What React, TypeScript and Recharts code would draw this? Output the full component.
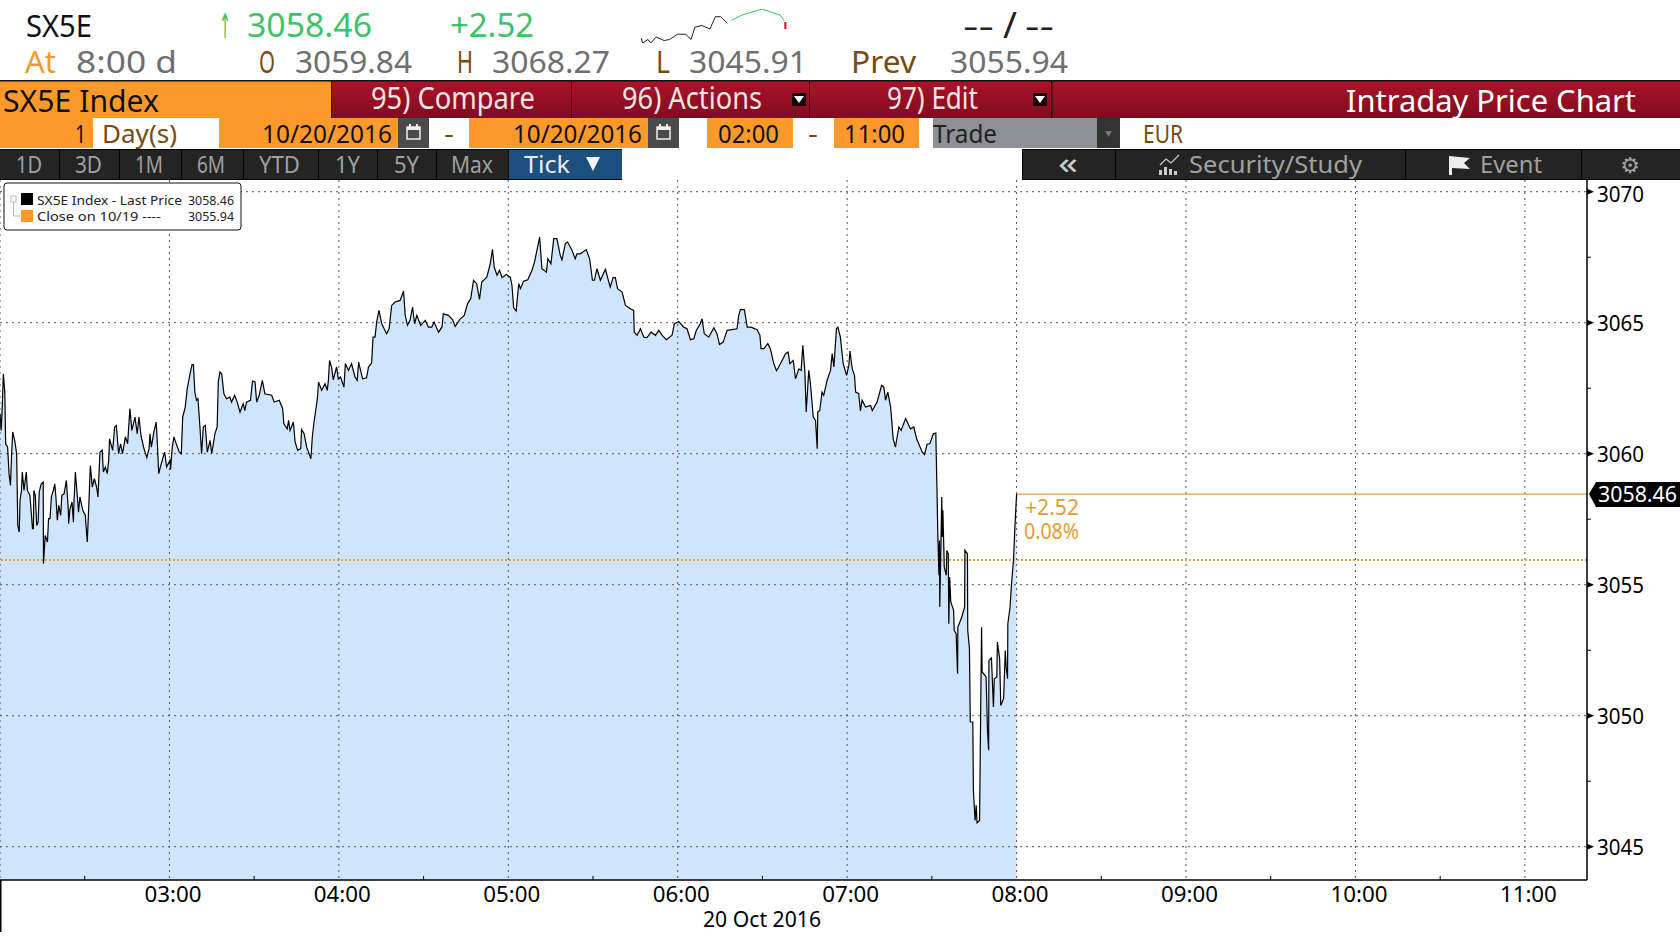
import {
  Area,
  CartesianGrid,
  ComposedChart,
  Line,
  LineChart,
  ReferenceLine,
  XAxis,
  YAxis,
} from "recharts";

// minutes after 02:00
const tickMinutes = [
  0, 0.4, 0.7, 1.2, 1.7, 2.0, 2.7, 3.2, 3.7, 4.1,
  4.5, 5.2, 5.9, 6.3, 6.8, 7.1, 7.6, 7.9, 8.5, 9.3,
  9.7, 10.6, 11.5, 11.8, 12.0, 12.5, 13.0, 13.5, 13.9, 14.6,
  15.3, 15.4, 16.0, 16.8, 17.2, 17.7, 18.2, 18.9, 19.4, 19.8,
  20.3, 20.8, 21.5, 21.9, 22.7, 23.5, 24.2, 24.3, 24.8, 25.5,
  26.0, 26.2, 26.7, 27.4, 27.8, 28.3, 29.3, 30.2, 30.9, 31.4,
  32.0, 32.7, 33.4, 34.2, 34.7, 35.4, 36.2, 36.6, 37.3, 38.0,
  38.5, 38.8, 39.9, 40.6, 41.2, 42.0, 42.7, 43.4, 44.4, 45.2,
  46.0, 46.7, 47.8, 48.6, 49.2, 50.0, 51.0, 52.0, 52.8, 53.1,
  53.6, 54.5, 55.3, 55.8, 56.2, 57.1, 58.3, 59.0, 60.2, 60.4,
  61.0, 61.6, 62.6, 63.5, 64.2, 64.7, 65.6, 66.3, 67.3, 68.0,
  68.5, 69.0, 69.6, 70.1, 70.8, 71.4, 72.0, 72.7, 73.4, 74.4,
  75.0, 76.1, 76.9, 77.3, 77.9, 78.5, 79.3, 80.2, 81.4, 82.0,
  83.1, 84.0, 85.0, 86.1, 86.7, 87.3, 88.7, 89.4, 90.3, 90.9,
  91.8, 92.9, 93.8, 96.2, 97.1, 98.9, 100.1, 100.5, 101.7, 102.2,
  102.7, 103.9, 104.5, 105.4, 106.5, 106.8, 107.7, 108.6, 110.1, 110.6,
  111.2, 111.8, 112.4, 112.8, 113.9, 115.1, 115.9, 116.3, 116.7, 117.4,
  118.0, 119.2, 119.8, 120.6, 121.8, 122.3, 123.4, 124.5, 125.7, 126.5,
  127.0, 128.4, 129.8, 130.5, 131.6, 132.1, 132.8, 133.4, 134.2, 135.2,
  136.3, 136.9, 137.8, 138.7, 139.9, 141.7, 142.9, 143.5, 144.3, 145.2,
  146.1, 146.8, 147.6, 149.0, 150.6, 151.7, 152.9, 153.7, 155.3, 156.5,
  157.0, 158.8, 160.3, 161.2, 163.0, 164.4, 165.6, 166.7, 167.7, 168.8,
  169.8, 170.6, 172.4, 173.6, 174.4, 175.0, 176.0, 176.9, 177.8, 179.3,
  180.7, 181.3, 181.9, 182.8, 183.7, 184.3, 185.4, 186.9, 188.4, 189.3,
  191.1, 191.9, 193.5, 194.0, 195.1, 196.1, 197.2, 198.4, 199.0, 200.2,
  201.0, 202.6, 203.7, 204.3, 205.5, 207.6, 208.8, 209.8, 210.5, 211.4,
  212.6, 214.4, 215.6, 216.1, 217.1, 217.9, 218.7, 220.3, 221.5, 223.2,
  224.4, 224.6, 225.6, 226.8, 228.0, 229.1, 230.6, 232.1, 233.3, 234.5,
  236.0, 238.0, 238.8, 240.4, 242.1, 243.3, 244.5, 245.7, 246.6, 248.0,
  248.6, 249.4, 251.0, 252.8, 253.9, 254.8, 256.1, 257.5, 261.0, 261.6,
  262.2, 263.6, 264.6, 266.0, 268.1, 269.1, 269.5, 270.5, 271.9, 272.8,
  274.0, 275.0, 276.4, 278.2, 279.1, 279.7, 280.9, 281.7, 282.9, 283.7,
  284.3, 285.0, 285.5, 286.4, 287.0, 288.0, 288.8, 289.4, 289.6, 290.3,
  291.1, 291.7, 292.9, 294.1, 294.7, 295.3, 296.2, 296.7, 297.6, 298.6,
  299.8, 300.6, 301.0, 301.8, 302.6, 303.0, 304.1, 304.7, 305.3, 306.5,
  308.3, 308.9, 310.6, 312.2, 313.0, 313.6, 314.4, 315.4, 316.3, 317.1,
  318.3, 319.1, 320.7, 322.4, 323.6, 324.6, 326.6, 327.4, 328.3, 329.3,
  330.5, 331.4, 331.8, 332.1, 332.5, 332.7, 332.8, 333.5, 333.7, 333.9,
  334.4, 335.1, 335.3, 335.8, 336.0, 336.3, 336.7, 337.7, 337.9, 338.6,
  339.1, 339.2, 340.6, 341.6, 341.7, 342.6, 342.7, 343.3, 343.6, 344.5,
  344.7, 345.3, 345.7, 346.0, 346.9, 347.1, 347.3, 347.6, 347.8, 349.2,
  349.7, 350.1, 350.2, 351.1, 351.8, 352.1, 353.0, 353.2, 354.0, 354.4,
  355.4, 356.0, 356.3, 356.8, 356.9, 357.7, 358.2, 358.9, 359.4, 360.0,
];

const tickPrices = [
  3061.53, 3060.89, 3061.53, 3063.05, 3062.35, 3060.38, 3060.25, 3059.24, 3058.79, 3059.94,
  3060.83, 3060.51, 3060.0, 3057.26, 3057.01, 3058.22, 3058.6, 3059.3, 3058.6, 3059.3,
  3058.6, 3058.41, 3057.14, 3057.14, 3058.6, 3058.41, 3057.26, 3057.39, 3058.54, 3058.85,
  3058.92, 3055.8, 3056.88, 3056.63, 3057.52, 3057.52, 3058.35, 3058.6, 3058.85, 3058.35,
  3057.46, 3058.03, 3057.65, 3058.41, 3058.47, 3058.98, 3057.84, 3057.33, 3057.9, 3058.16,
  3057.39, 3058.16, 3059.3, 3058.35, 3057.77, 3058.35, 3057.84, 3057.65, 3056.63, 3057.9,
  3059.55, 3058.73, 3059.05, 3058.73, 3058.35, 3060.06, 3060.13, 3059.3, 3059.49, 3059.24,
  3059.75, 3060.57, 3060.13, 3061.02, 3061.08, 3060.0, 3060.38, 3060.0, 3060.64, 3060.38,
  3061.72, 3060.89, 3061.4, 3060.76, 3061.4, 3060.64, 3060.19, 3059.85, 3060.19, 3060.76,
  3060.25, 3060.83, 3061.21, 3060.25, 3059.24, 3059.62, 3060.06, 3059.49, 3059.75, 3059.39,
  3060.25, 3060.64, 3060.32, 3060.06, 3060.0, 3061.4, 3061.78, 3062.48, 3063.05, 3063.4,
  3063.4, 3062.35, 3062.04, 3062.1, 3061.02, 3060.0, 3061.02, 3061.08, 3060.06, 3060.51,
  3060.0, 3060.76, 3061.02, 3062.74, 3063.12, 3063.05, 3062.29, 3062.1, 3062.16, 3061.97,
  3062.23, 3061.97, 3061.59, 3061.91, 3061.65, 3061.97, 3062.04, 3062.77, 3062.74, 3061.97,
  3062.23, 3062.8, 3062.29, 3062.23, 3061.97, 3062.04, 3061.72, 3061.15, 3060.95, 3061.27,
  3060.89, 3061.21, 3060.45, 3060.13, 3060.19, 3060.92, 3060.76, 3060.25, 3059.81, 3060.64,
  3061.21, 3061.65, 3062.1, 3062.74, 3062.42, 3062.67, 3062.42, 3062.8, 3063.56, 3063.31,
  3062.82, 3063.31, 3062.86, 3062.93, 3062.54, 3063.44, 3063.18, 3063.44, 3062.93, 3062.8,
  3063.5, 3062.86, 3062.9, 3063.31, 3063.46, 3064.45, 3064.45, 3065.03, 3065.47, 3064.96,
  3064.71, 3064.58, 3064.77, 3065.66, 3065.79, 3065.85, 3066.21, 3065.28, 3064.9, 3065.09,
  3065.6, 3064.96, 3065.28, 3064.9, 3065.09, 3064.83, 3064.83, 3065.03, 3064.64, 3064.83,
  3065.34, 3065.28, 3065.11, 3064.86, 3065.15, 3065.28, 3065.73, 3065.92, 3066.62, 3066.49,
  3065.89, 3066.55, 3066.74, 3067.25, 3067.8, 3067.13, 3066.81, 3067.0, 3066.72, 3066.84,
  3066.74, 3066.43, 3065.57, 3065.45, 3066.49, 3066.3, 3066.58, 3066.64, 3067.0, 3067.32,
  3068.27, 3067.06, 3066.93, 3067.44, 3067.25, 3068.21, 3068.21, 3067.57, 3067.4, 3068.02,
  3068.08, 3067.76, 3067.44, 3067.63, 3067.63, 3067.79, 3067.44, 3066.62, 3066.62, 3067.06,
  3066.62, 3067.04, 3066.55, 3066.36, 3066.72, 3066.72, 3066.3, 3066.17, 3065.66, 3065.53,
  3065.47, 3064.64, 3064.52, 3064.77, 3064.45, 3064.43, 3064.64, 3064.52, 3064.71, 3064.52,
  3064.35, 3064.52, 3064.96, 3065.05, 3064.83, 3064.77, 3064.35, 3064.39, 3064.71, 3064.96,
  3065.15, 3064.58, 3064.45, 3064.81, 3064.58, 3064.17, 3064.26, 3064.71, 3064.77, 3065.28,
  3065.5, 3065.5, 3064.83, 3064.83, 3064.73, 3064.52, 3064.01, 3064.01, 3064.2, 3064.01,
  3063.44, 3063.16, 3063.44, 3063.82, 3063.88, 3063.44, 3063.56, 3062.86, 3063.24, 3063.18,
  3064.14, 3063.18, 3061.59, 3063.18, 3062.67, 3061.4, 3061.27, 3060.19, 3061.59, 3061.65,
  3062.35, 3062.23, 3062.8, 3063.18, 3063.82, 3063.31, 3064.77, 3064.83, 3064.45, 3063.44,
  3062.99, 3063.37, 3063.92, 3063.24, 3062.99, 3062.35, 3062.29, 3061.63, 3062.04, 3061.78,
  3061.84, 3061.65, 3061.97, 3062.61, 3062.54, 3062.04, 3062.35, 3061.78, 3060.57, 3060.25,
  3061.02, 3060.89, 3061.34, 3060.95, 3061.02, 3060.57, 3060.06, 3059.97, 3060.36, 3060.38,
  3060.76, 3060.79, 3058.66, 3056.95, 3055.36, 3056.69, 3054.15, 3058.35, 3056.82, 3057.84,
  3055.67, 3055.36, 3056.31, 3056.18, 3053.51, 3055.29, 3054.34, 3054.02, 3053.26, 3053.13,
  3051.6, 3053.38, 3053.77, 3054.15, 3056.31, 3056.18, 3053.26, 3052.56, 3049.76, 3049.76,
  3047.15, 3046.0, 3046.58, 3045.91, 3046.0, 3048.23, 3050.33, 3053.38, 3051.67, 3051.48,
  3049.44, 3048.68, 3052.11, 3052.21, 3050.33, 3051.41, 3051.48, 3052.81, 3052.18, 3050.39,
  3050.65, 3052.49, 3051.86, 3051.41, 3053.51, 3054.15, 3055.04, 3055.93, 3057.2, 3058.46,
];

const lastPrice = 3058.46;
const prevClose = 3055.94;
const priceTicks = [3045, 3047.5, 3050, 3052.5, 3055, 3057.5, 3058.46, 3060, 3062.5, 3065, 3067.5, 3070];
const gridPrices = [3045, 3050, 3055, 3060, 3065, 3070];
const gridMinutes = [0, 60, 120, 180, 240, 300, 360, 420, 480, 540];
const timeTicks = [30, 60, 90, 120, 150, 180, 210, 240, 270, 300, 330, 360, 390, 420, 450, 480, 510, 540];
const hourLabels = ["03:00", "04:00", "05:00", "06:00", "07:00", "08:00", "09:00", "10:00", "11:00"];

// mini chart in the header, arbitrary level units
const sparkBlackX = [0, 3, 13, 18, 28, 43, 53, 68, 83, 93, 100, 113, 128, 138, 148, 160];
const sparkBlackY = [20, 5, 15, 5, 22, 12, 15, 30, 30, 15, 50, 55, 45, 80, 80, 62];
const sparkGreenX = [168, 188, 203, 225, 243, 258, 266];
const sparkGreenY = [70, 85, 92, 102, 92, 85, 68];
const sparkRedX = [268, 268];
const sparkRedY = [65, 45];

const priceRows = tickMinutes.map((t, i) => ({ t, price: tickPrices[i] }));
const toRows = (xs: number[], ys: number[]) => xs.map((x, i) => ({ x, y: ys[i] }));

const FONT = "'Noto Sans', sans-serif";
const ORANGE = "#fb9a2a";
const BROWN = "#7a4a10";
const GRAY = "#6f6f6f";
const GREEN = "#3cc464";
const BAR_TEXT = "#f4e3e4";
const BTN_TEXT = "#a0a0a0";
const X_DOMAIN = [0, 562];
const Y_DOMAIN = [3043.73, 3070.447];

interface LabelProps {
  x: number;
  end: number;
  y: number;
  size: number;
  fill: string;
  family?: string;
  children: string;
}

// text squeezed into the exact width it has in the terminal font
function Label({ x, end, y, size, fill, family = FONT, children }: LabelProps) {
  return (
    <text
      x={x}
      y={y}
      fontSize={size}
      fill={fill}
      fontFamily={family}
      textLength={end - x}
      lengthAdjust="spacingAndGlyphs"
    >
      {children}
    </text>
  );
}

function PriceTick({ x, y, payload }: any) {
  const v = payload.value as number;
  if (v === lastPrice) {
    return (
      <g>
        <polygon
          points={`${x + 2},${y} ${x + 9},${y - 12} ${x + 93},${y - 12} ${x + 93},${y + 13} ${x + 9},${y + 13}`}
          fill="#000"
        />
        <Label x={x + 11} end={x + 90} y={y + 8} size={21} fill="#fff">
          {v.toFixed(2)}
        </Label>
      </g>
    );
  }
  if (v % 5 !== 0) {
    return <line x1={x} x2={x + 4} y1={y} y2={y} stroke="#000" />;
  }
  return (
    <g>
      <polygon points={`${x},${y - 3} ${x + 7},${y} ${x},${y + 3}`} fill="#000" />
      <Label x={x + 10} end={x + 57} y={v === 3070 ? y + 10 : y + 8} size={21} fill="#000">
        {String(v)}
      </Label>
    </g>
  );
}

function TimeTick({ x, y, payload }: any) {
  const v = payload.value as number;
  if (v % 60 !== 0) {
    return <line x1={x} x2={x} y1={y} y2={y - 4} stroke="#000" />;
  }
  return (
    <Label x={x - 25} end={x + 32} y={y + 22} size={21} fill="#000">
      {hourLabels[v / 60 - 1]}
    </Label>
  );
}

function Sparkline() {
  return (
    <LineChart
      width={146}
      height={34}
      margin={{ top: 0, right: 0, bottom: 0, left: 0 }}
      style={{ position: "absolute", left: 641, top: 9 }}
    >
      <XAxis dataKey="x" type="number" domain={[0, 271]} hide />
      <YAxis dataKey="y" type="number" domain={[5, 102]} hide />
      <Line data={toRows(sparkBlackX, sparkBlackY)} dataKey="y" stroke="#222" strokeWidth={1} dot={false} isAnimationActive={false} />
      <Line data={toRows(sparkGreenX, sparkGreenY)} dataKey="y" stroke="#35c65a" strokeWidth={1} dot={false} isAnimationActive={false} />
      <Line data={toRows(sparkRedX, sparkRedY)} dataKey="y" stroke="#c8102e" strokeWidth={2} dot={false} isAnimationActive={false} />
    </LineChart>
  );
}

// the fill sits in its own chart so the grid and the dotted close line can lie over it
function PriceFill() {
  return (
    <ComposedChart
      width={1587}
      height={700}
      data={priceRows}
      margin={{ top: 0, right: 0, bottom: 0, left: 0 }}
      style={{ position: "absolute", left: 0, top: 180 }}
    >
      <XAxis dataKey="t" type="number" domain={X_DOMAIN} hide />
      <YAxis type="number" domain={Y_DOMAIN} hide />
      <Area
        dataKey="price"
        type="linear"
        stroke="none"
        fill="#cfe5fd"
        fillOpacity={1}
        dot={false}
        activeDot={false}
        isAnimationActive={false}
      />
    </ComposedChart>
  );
}

function PriceChart() {
  return (
    <ComposedChart
      width={1680}
      height={760}
      data={priceRows}
      margin={{ top: 0, right: 0, bottom: 0, left: 0 }}
      style={{ position: "absolute", left: 0, top: 180 }}
    >
      <XAxis
        dataKey="t"
        type="number"
        domain={X_DOMAIN}
        ticks={timeTicks}
        interval={0}
        height={60}
        axisLine={{ stroke: "#000", strokeWidth: 1.5 }}
        tickLine={false}
        tickSize={0}
        tickMargin={0}
        tick={<TimeTick />}
      />
      <YAxis
        orientation="right"
        type="number"
        domain={Y_DOMAIN}
        ticks={priceTicks}
        interval={0}
        width={93}
        axisLine={{ stroke: "#000", strokeWidth: 1.5 }}
        tickLine={false}
        tickSize={0}
        tickMargin={0}
        tick={<PriceTick />}
      />
      <CartesianGrid
        stroke="#555"
        strokeDasharray="2 4"
        horizontalValues={gridPrices}
        verticalValues={gridMinutes}
      />
      <ReferenceLine y={prevClose} stroke="#dba445" strokeWidth={2} strokeDasharray="2 2" />
      <ReferenceLine
        segment={[{ x: 360, y: lastPrice }, { x: 562, y: lastPrice }]}
        stroke="#dba445"
        strokeWidth={1.2}
      />
      <Line
        dataKey="price"
        type="linear"
        stroke="#000"
        strokeWidth={1.2}
        dot={false}
        activeDot={false}
        isAnimationActive={false}
      />
    </ComposedChart>
  );
}

function CalendarIcon({ x }: { x: number }) {
  return (
    <g>
      <rect x={x} y={127} width={13} height={12} fill="none" stroke="#eee" strokeWidth={1.5} />
      <rect x={x} y={127} width={13} height={3} fill="#eee" />
      <rect x={x + 2} y={124} width={2} height={3} fill="#eee" />
      <rect x={x + 9} y={124} width={2} height={3} fill="#eee" />
    </g>
  );
}

function Header() {
  return (
    <svg
      width={1680}
      height={940}
      style={{ position: "absolute", left: 0, top: 0, pointerEvents: "none" }}
    >
      <defs>
        <linearGradient id="redBar" x1="0" y1="0" x2="0" y2="1">
          <stop offset="0" stopColor="#ad1228" />
          <stop offset="1" stopColor="#7e0d20" />
        </linearGradient>
      </defs>

      {/* quote lines */}
      <Label x={26} end={92} y={37} size={31} fill="#111">SX5E</Label>
      <Label x={219} end={231} y={38} size={34} fill={GREEN} family="'DejaVu Sans'">↑</Label>
      <Label x={247} end={372} y={37} size={32} fill={GREEN}>3058.46</Label>
      <Label x={450} end={534} y={37} size={32} fill={GREEN}>+2.52</Label>
      <Label x={963} end={994} y={37} size={31} fill="#222">--</Label>
      <Label x={1003} end={1017} y={38} size={36} fill="#222">/</Label>
      <Label x={1025} end={1054} y={37} size={31} fill="#222">--</Label>
      <Label x={25} end={56} y={73} size={30} fill="#ef9a2e">At</Label>
      <Label x={76} end={177} y={73} size={30} fill={GRAY}>8:00 d</Label>
      <Label x={259} end={275} y={73} size={30} fill={BROWN}>O</Label>
      <Label x={295} end={412} y={73} size={30} fill={GRAY}>3059.84</Label>
      <Label x={457} end={473} y={73} size={30} fill={BROWN}>H</Label>
      <Label x={492} end={610} y={73} size={30} fill={GRAY}>3068.27</Label>
      <Label x={656} end={670} y={73} size={30} fill={BROWN}>L</Label>
      <Label x={689} end={807} y={73} size={30} fill={GRAY}>3045.91</Label>
      <Label x={851} end={916} y={73} size={30} fill={BROWN}>Prev</Label>
      <Label x={950} end={1068} y={73} size={30} fill={GRAY}>3055.94</Label>

      {/* title bar */}
      <rect x={0} y={81} width={1680} height={37} fill="url(#redBar)" />
      <rect x={0} y={81} width={331} height={37} fill={ORANGE} />
      <rect x={0} y={80} width={1680} height={1.5} fill="#111" />
      <rect x={331} y={81} width={1} height={37} fill="#3a0610" />
      <rect x={571} y={81} width={1} height={37} fill="#3a0610" />
      <rect x={809} y={81} width={1} height={37} fill="#3a0610" />
      <rect x={1051} y={81} width={1.5} height={37} fill="#1a0206" />
      <Label x={3} end={159} y={112} size={30} fill="#111">SX5E Index</Label>
      <Label x={371} end={535} y={109} size={30} fill={BAR_TEXT}>95) Compare</Label>
      <Label x={622} end={762} y={109} size={30} fill={BAR_TEXT}>96) Actions</Label>
      <Label x={887} end={978} y={109} size={30} fill={BAR_TEXT}>97) Edit</Label>
      <Label x={1346} end={1636} y={112} size={31} fill="#fff">Intraday Price Chart</Label>
      <rect x={792} y={93} width={14} height={13} fill="#180306" />
      <polygon points="794,96 804,96 799,103" fill="#fff" />
      <rect x={1033} y={93} width={14} height={13} fill="#180306" />
      <polygon points="1035,96 1045,96 1040,103" fill="#fff" />

      {/* date range row */}
      <rect x={0} y={118} width={93} height={30} fill={ORANGE} />
      <rect x={219} y={118} width={179} height={30} fill={ORANGE} />
      <rect x={469} y={118} width={179} height={30} fill={ORANGE} />
      <rect x={707} y={118} width={86} height={30} fill={ORANGE} />
      <rect x={834} y={118} width={85} height={30} fill={ORANGE} />
      <rect x={398} y={118} width={31} height={30} fill="#4a4a4a" />
      <rect x={648} y={118} width={31} height={30} fill="#4a4a4a" />
      <CalendarIcon x={407} />
      <CalendarIcon x={657} />
      <rect x={933} y={118} width={164} height={30} fill="#8e8f97" />
      <rect x={1097} y={118} width={23} height={30} fill="#333" />
      <polygon points="1105,131 1112,131 1108.5,137" fill="#777" />
      <Label x={75} end={86} y={143} size={25} fill="#111">1</Label>
      <Label x={102} end={177} y={143} size={25} fill={BROWN}>Day(s)</Label>
      <Label x={262} end={392} y={143} size={25} fill="#111">10/20/2016</Label>
      <Label x={444} end={454} y={143} size={25} fill={BROWN}>-</Label>
      <Label x={513} end={642} y={143} size={25} fill="#111">10/20/2016</Label>
      <Label x={718} end={779} y={143} size={25} fill="#111">02:00</Label>
      <Label x={808} end={818} y={143} size={25} fill={BROWN}>-</Label>
      <Label x={844} end={905} y={143} size={25} fill="#111">11:00</Label>
      <Label x={933} end={997} y={143} size={25} fill="#222">Trade</Label>
      <Label x={1143} end={1183} y={143} size={25} fill={BROWN}>EUR</Label>

      {/* range buttons */}
      <rect x={0} y={149} width={622} height={31} fill="#000" />
      {[
        [0, 59], [60, 119], [120, 181], [182, 243], [244, 318], [319, 377], [378, 436], [437, 508],
      ].map(([a, b]) => (
        <rect key={a} x={a} y={150} width={b - a} height={29} fill="#242424" />
      ))}
      <rect x={509} y={150} width={113} height={29} fill="#1d507e" />
      <Label x={16} end={42} y={173} size={23} fill={BTN_TEXT}>1D</Label>
      <Label x={75} end={102} y={173} size={23} fill={BTN_TEXT}>3D</Label>
      <Label x={135} end={163} y={173} size={23} fill={BTN_TEXT}>1M</Label>
      <Label x={197} end={225} y={173} size={23} fill={BTN_TEXT}>6M</Label>
      <Label x={259} end={300} y={173} size={23} fill={BTN_TEXT}>YTD</Label>
      <Label x={335} end={360} y={173} size={23} fill={BTN_TEXT}>1Y</Label>
      <Label x={394} end={419} y={173} size={23} fill={BTN_TEXT}>5Y</Label>
      <Label x={451} end={493} y={173} size={23} fill={BTN_TEXT}>Max</Label>
      <Label x={524} end={570} y={173} size={23} fill="#e8eef4">Tick</Label>
      <polygon points="586,157 600,157 593,171" fill="#f0f4f8" />

      <rect x={1022} y={149} width={658} height={31} fill="#000" />
      <rect x={1023} y={150} width={92} height={29} fill="#242424" />
      <rect x={1116} y={150} width={289} height={29} fill="#242424" />
      <rect x={1406} y={150} width={175} height={29} fill="#242424" />
      <rect x={1582} y={150} width={98} height={29} fill="#242424" />
      <Label x={1058} end={1078} y={174} size={30} fill="#ccc">«</Label>
      <polyline points="1160,165 1166,159 1171,163 1179,155" fill="none" stroke="#ccc" strokeWidth={1.2} />
      <rect x={1159} y={170} width={3} height={5} fill="#ccc" />
      <rect x={1164} y={167} width={3} height={8} fill="#ccc" />
      <rect x={1169} y={169} width={3} height={6} fill="#ccc" />
      <rect x={1174} y={171} width={3} height={4} fill="#ccc" />
      <Label x={1189} end={1362} y={173} size={23} fill={BTN_TEXT}>Security/Study</Label>
      <polygon points="1449,156 1470,158 1464,163 1470,169 1452,168 1452,175 1449,175" fill="#eee" />
      <Label x={1480} end={1542} y={173} size={23} fill={BTN_TEXT}>Event</Label>
      <text x={1630} y={173} fontSize={22} fill={BTN_TEXT} textAnchor="middle" fontFamily="'DejaVu Sans'">⚙</text>

      {/* legend */}
      <rect x={4} y={183} width={237} height={47} rx={3} fill="#fff" stroke="#111" strokeWidth={1} />
      <rect x={11} y={196} width={5} height={6} fill="none" stroke="#bbb" />
      <polyline points="13.5,202 13.5,216 20,216" fill="none" stroke="#bbb" />
      <rect x={21} y={193} width={12} height={12} fill="#000" />
      <rect x={21} y={210} width={12} height={12} fill={ORANGE} />
      <Label x={37} end={182} y={205} size={13} fill="#222">SX5E Index - Last Price</Label>
      <Label x={188} end={234} y={205} size={13} fill="#222">3058.46</Label>
      <Label x={37} end={161} y={221} size={13} fill="#222">Close on 10/19 ----</Label>
      <Label x={188} end={234} y={221} size={13} fill="#222">3055.94</Label>

      {/* change since previous close */}
      <Label x={1025} end={1079} y={515} size={21} fill="#e29c2e">+2.52</Label>
      <Label x={1024} end={1079} y={539} size={21} fill="#e29c2e">0.08%</Label>

      {/* date under the time axis, left edge of the axis */}
      <Label x={703} end={821} y={927} size={21} fill="#000">20 Oct 2016</Label>
      <rect x={0} y={880} width={1.5} height={52} fill="#000" />
    </svg>
  );
}

export default function App() {
  return (
    <div
      style={{
        position: "absolute",
        left: 0,
        top: 0,
        width: 1680,
        height: 940,
        background: "#fff",
        overflow: "hidden",
      }}
    >
      <PriceFill />
      <PriceChart />
      <Sparkline />
      <Header />
    </div>
  );
}
